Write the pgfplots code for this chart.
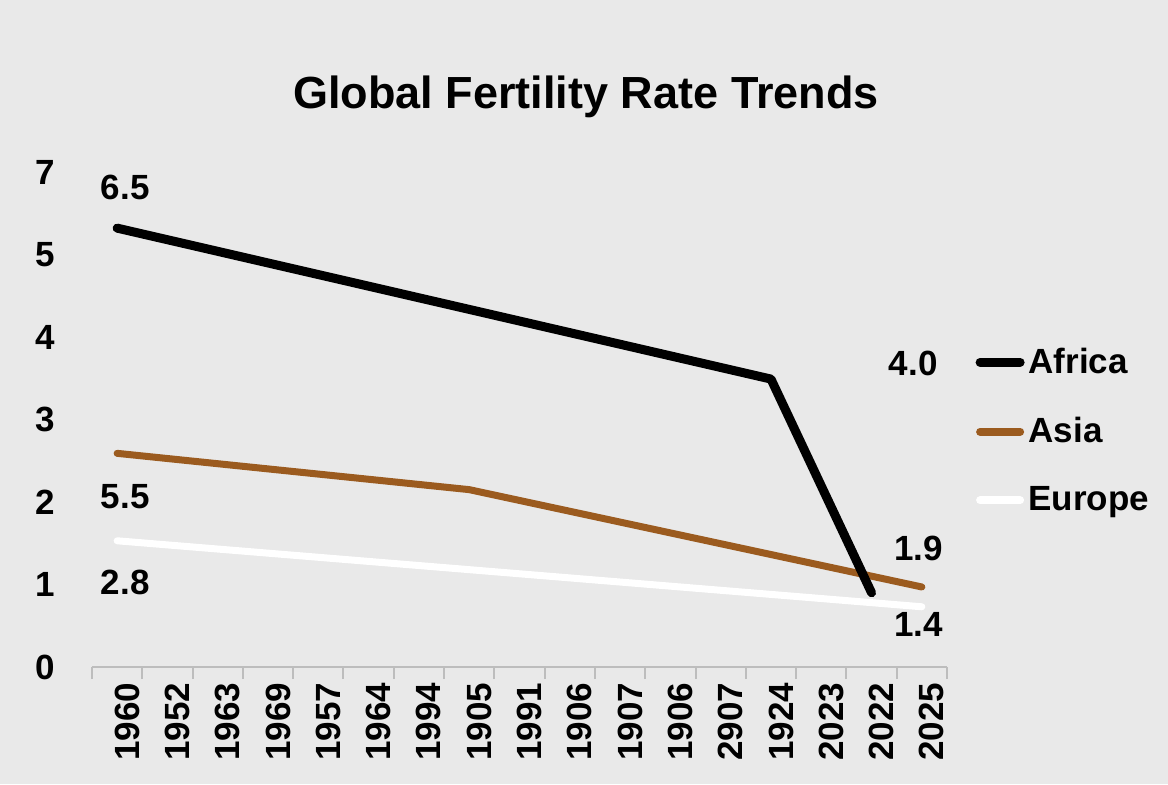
\documentclass[border=0pt]{standalone}
\usepackage{pgfplots}
\pgfplotsset{compat=1.18}
\usepackage{fontspec}
\setmainfont{Liberation Sans}
\definecolor{bg}{HTML}{E9E9E9}
\definecolor{asia}{HTML}{9B5B1F}
\definecolor{axgray}{HTML}{BDBDBD}
\begin{document}
\begin{tikzpicture}
\fill[bg] (0pt,0pt) rectangle (584pt,392pt);
\node[font=\fontsize{22.5}{26}\selectfont\bfseries] at (293pt,343.5pt) {Global Fertility Rate Trends};
\begin{axis}[
 at={(46pt,58.5pt)}, anchor=south west,
 scale only axis, width=427.5pt, height=268.125pt,
 xmin=-0.5, xmax=16.5, ymin=0, ymax=6.5,
 clip=false,
 axis x line=bottom, axis y line=left,
 y axis line style={draw=none},
 x axis line style={-, draw=axgray, line width=1.2pt},
 xtick={0,...,16},
 xticklabels={1960,1952,1963,1969,1957,1964,1994,1905,1991,1906,1907,1906,2907,1924,2023,2022,2025},
 major x tick style={draw=none},
 minor xtick={-0.5,0.5,...,16.5},
 minor x tick style={draw=axgray, line width=1pt},
 minor tick length=6pt,
 xtick align=outside,
 ytick={0,...,6},
 yticklabels={0,1,2,3,4,5,7},
 ytick style={draw=none},
 /pgf/number format/assume math mode=true,
 tick label style={font=\fontsize{17.5}{20}\selectfont\bfseries},
 xticklabel style={rotate=90, anchor=east, yshift=-5pt},
 yticklabel style={xshift=-13pt},
 legend style={draw=none, fill=none, at={(1.033,0.44)}, anchor=west,
   font=\fontsize{17.5}{20}\selectfont\bfseries, row sep=16.5pt, inner sep=0pt},
 legend cell align=left,
 legend image code/.code={\draw[#1, line cap=round] (0pt,0pt) -- (20pt,0pt);},
]
\addlegendimage{black, line width=4.5pt}
\addlegendentry{Africa}
\addlegendimage{asia, line width=4pt}
\addlegendentry{Asia}
\addlegendimage{white, line width=4pt}
\addlegendentry{Europe}
\addplot[forget plot, white, line width=3.5pt, line cap=round, line join=round] coordinates {(0,1.53) (16,0.73)};
\addplot[forget plot, asia, line width=3.5pt, line cap=round, line join=round] coordinates {(0,2.59) (7,2.15) (16,0.97)};
\addplot[forget plot, black, line width=4.5pt, line cap=round, line join=round] coordinates {(0,5.32) (13,3.49) (15,0.90)};
\node[font=\fontsize{17.5}{20}\selectfont\bfseries] at (axis cs:0.16,5.81) {6.5};
\node[font=\fontsize{17.5}{20}\selectfont\bfseries] at (axis cs:0.16,2.06) {5.5};
\node[font=\fontsize{17.5}{20}\selectfont\bfseries] at (axis cs:0.16,1.02) {2.8};
\node[font=\fontsize{17.5}{20}\selectfont\bfseries] at (axis cs:15.83,3.68) {4.0};
\node[font=\fontsize{17.5}{20}\selectfont\bfseries] at (axis cs:15.93,1.44) {1.9};
\node[font=\fontsize{17.5}{20}\selectfont\bfseries] at (axis cs:15.93,0.51) {1.4};
\end{axis}
\pgfresetboundingbox
\useasboundingbox (0pt,0pt) rectangle (584pt,392pt);
\end{tikzpicture}
\end{document}
